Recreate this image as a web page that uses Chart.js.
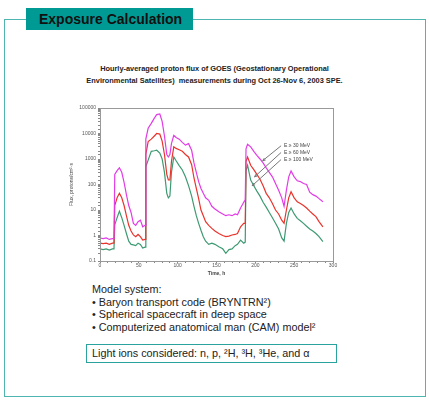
<!DOCTYPE html>
<html>
<head>
<meta charset="utf-8">
<script src="https://cdn.jsdelivr.net/npm/chart.js@4.4.1/dist/chart.umd.min.js"></script>
<style>
  html, body { margin: 0; padding: 0; background: #fff; }
  body { width: 429px; height: 400px; position: relative; overflow: hidden;
         font-family: "Liberation Sans", Arial, sans-serif; color: #222; }
  #frame { position: absolute; left: 4px; top: 19px; width: 420px; height: 376px;
           border: 1.5px solid #4fb5b0; }
  #head { position: absolute; left: 26px; top: 8px; width: 167px; height: 22px;
          background: #009a95; }
  #head span { position: absolute; left: 13px; top: 3px; font-weight: bold; font-size: 14px; color: #111; }
  #ttl { position: absolute; left: 0; width: 429px; top: 63px; text-align: center;
         font-weight: bold; font-size: 7.4px; line-height: 11.5px; color: #222; }
  #chartbox { position: absolute; left: 56px; top: 96px; }
  #notes { position: absolute; left: 92px; top: 283px; font-size: 10.8px; line-height: 12.5px; color: #222; }
  #ions { position: absolute; left: 86px; top: 344px; width: 249px; height: 17px;
          border: 1px solid #2aa39e; font-size: 10.8px; }
  #ions span { position: absolute; left: 5px; top: 2px; }
</style>
</head>
<body>
<div id="frame"></div>
<div id="head"><span>Exposure Calculation</span></div>
<div id="ttl">Hourly-averaged proton flux of GOES (Geostationary Operational<br>Environmental Satellites)&nbsp; measurements during Oct 26-Nov 6, 2003 SPE.</div>
<div id="chartbox"><canvas id="flux" width="300" height="184"></canvas></div>
<div id="notes">
  Model system:<br>
  • Baryon transport code (BRYNTRN²)<br>
  • Spherical spacecraft in deep space<br>
  • Computerized anatomical man (CAM) model²
</div>
<div id="ions"><span>Light ions considered: n, p, ²H, ³H, ³He, and α</span></div>

<script>
// horas desde el inicio del evento
const hours = [0,4,8,12,16,18,19,22,25,28,31,34,37,40,43,46,49,52,55,58,
  59,62,66,70,73,77,80,83,86,88,90,92,95,98,102,106,110,114,118,121,
  124,127,130,133,136,140,144,148,153,158,162,166,170,174,177,181,185,187,188,190,
  194,198,202,206,210,214,218,222,226,230,234,237,240,243,246,250,254,258,262,266,
  270,274,278,282,287];

// flujo E >= 30 MeV
const flux30 = [0.8,0.75,0.8,0.7,0.75, 0.75,250,350,450,300, 120,40,15,8,3, 2.5,3.5,4,2.2,2.5,
  6000,16000,25000,40000,55000, 58000,30000,8000,1500,1200, 1500,4000,8500,7000,6000,
  4500,3500,4000,2200,700, 300,130,70,45,30, 24,14,11,8.5,7, 6,6.5,6,7,6.5,
  12,20,25,2500,3800, 3000,2000,1400,1000,700, 450,300,200,110,60,
  30,14,60,200,340, 200,140,130,110,100, 50,40,35,28,21];

// flujo E >= 60 MeV
const flux60 = [0.5,0.48,0.5,0.45,0.5, 0.5,15,30,45,30, 15,6,2.5,1.5,1.05, 0.9,1.1,0.9,0.66,0.7,
  1500,4800,6000,8000,10000, 9500,5000,1500,250,150, 150,800,3000,2600,2300,
  2000,1500,1200,600,180, 70,28,10,6,3.5, 2.5,1.9,1.5,1.2,1.0, 0.9,0.95,1.05,1.1,1.2,
  2.2,3,3,800,1200, 570,380,250,160,90, 45,30,18,10,7,
  4,3,10,30,52, 30,21,18,15,12, 9,7,5.5,3.5,2.2];

// flujo E >= 100 MeV
const flux100 = [0.3,0.28,0.3,0.27,0.3, 0.3,2.6,5,9,5, 2.5,1.2,0.6,0.45,0.43, 0.4,0.5,0.45,0.32,0.35,
  500,900,2000,2100,2200, 1700,1000,300,45,30, 35,300,1200,850,550,
  370,200,90,35,14, 6,3,1.6,0.9,0.6, 0.45,0.5,0.45,0.36,0.3, 0.2,0.28,0.3,0.4,0.45,
  0.66,0.5,0.55,350,570, 150,90,55,35,20, 13,8,5,3,1.8,
  0.8,0.6,3,8,12, 7,4.7,3.8,3,2.3, 1.8,1.5,1.2,0.9,0.57];

const seriesNames = ["E ≥ 30 MeV", "E ≥ 60 MeV", "E ≥ 100 MeV"];
const xTicks = [0, 50, 100, 150, 200, 250, 300];

// etiquetas con flechas: [hora texto, flujo texto, hora punta, flujo punta]
const labelPos = [[237, 3300, 209.5, 860], [237, 1800, 199, 200], [237, 950, 196, 90]];

const tickFont = { family: "Liberation Sans", size: 5 };

function serie(vals) {
  return hours.map((h, i) => ({ x: h, y: vals[i] }));
}

// caja alrededor del área y flechas de la leyenda
const extras = {
  id: 'extras',
  afterDatasetsDraw(chart) {
    const { ctx, chartArea: a, scales: { x, y } } = chart;
    ctx.save();
    ctx.strokeStyle = '#999';
    ctx.lineWidth = 1;
    ctx.strokeRect(a.left + 0.5, a.top + 0.5, a.right - a.left, a.bottom - a.top);
    ctx.font = '5px "Liberation Sans"';
    ctx.fillStyle = '#444';
    ctx.textBaseline = 'middle';
    labelPos.forEach((p, i) => {
      const tx = x.getPixelForValue(p[0]), ty = y.getPixelForValue(p[1]);
      const ex = x.getPixelForValue(p[2]), ey = y.getPixelForValue(p[3]);
      ctx.fillText(seriesNames[i], tx, ty);
      ctx.strokeStyle = '#777';
      ctx.beginPath();
      ctx.moveTo(tx - 3, ty);
      ctx.lineTo(ex, ey);
      ctx.stroke();
      const ang = Math.atan2(ey - ty, ex - tx);
      ctx.beginPath();
      ctx.moveTo(ex, ey);
      ctx.lineTo(ex - 3 * Math.cos(ang - 0.4), ey - 3 * Math.sin(ang - 0.4));
      ctx.moveTo(ex, ey);
      ctx.lineTo(ex - 3 * Math.cos(ang + 0.4), ey - 3 * Math.sin(ang + 0.4));
      ctx.stroke();
    });
    ctx.restore();
  }
};

new Chart(document.getElementById('flux'), {
  type: 'line',
  data: {
    datasets: [
      { label: seriesNames[0], data: serie(flux30), borderColor: '#e23ce6' },
      { label: seriesNames[1], data: serie(flux60), borderColor: '#e8342c' },
      { label: seriesNames[2], data: serie(flux100), borderColor: '#3d9a72' }
    ]
  },
  options: {
    responsive: false,
    animation: false,
    devicePixelRatio: 1,
    layout: { padding: { top: 12, right: 23, left: 0, bottom: 0 } },
    elements: { point: { radius: 0 }, line: { borderWidth: 1.2, tension: 0 } },
    plugins: { legend: { display: false }, tooltip: { enabled: false } },
    scales: {
      x: {
        type: 'linear', min: 0, max: 300,
        ticks: { stepSize: 10, autoSkip: false, maxRotation: 0, padding: 0, font: tickFont, color: '#555',
                 callback: v => (xTicks.includes(v) ? String(v) : '') },
        grid: { drawOnChartArea: false, tickLength: 2, color: '#888' },
        border: { color: '#888' },
        title: { display: true, text: 'Time, h', font: { family: "Liberation Sans", size: 5, weight: 'bold' },
                 color: '#444', padding: { top: 0, bottom: 3 } },
        afterFit: s => { s.height = 19; }
      },
      y: {
        type: 'logarithmic', min: 0.1, max: 100000,
        ticks: { autoSkip: false, padding: 2, font: tickFont, color: '#555',
                 callback: v => { const l = Math.log10(v); return Math.abs(l - Math.round(l)) < 1e-6 ? String(v) : ''; } },
        grid: { drawOnChartArea: false, tickLength: 2, color: '#888' },
        border: { color: '#888' },
        title: { display: true, text: 'Flux, protons/cm²·s', font: { family: "Liberation Sans", size: 5 },
                 color: '#444', padding: { top: 13, bottom: 0 } },
        afterFit: s => { s.width = 44; }
      }
    }
  },
  plugins: [extras]
});
</script>
</body>
</html>
